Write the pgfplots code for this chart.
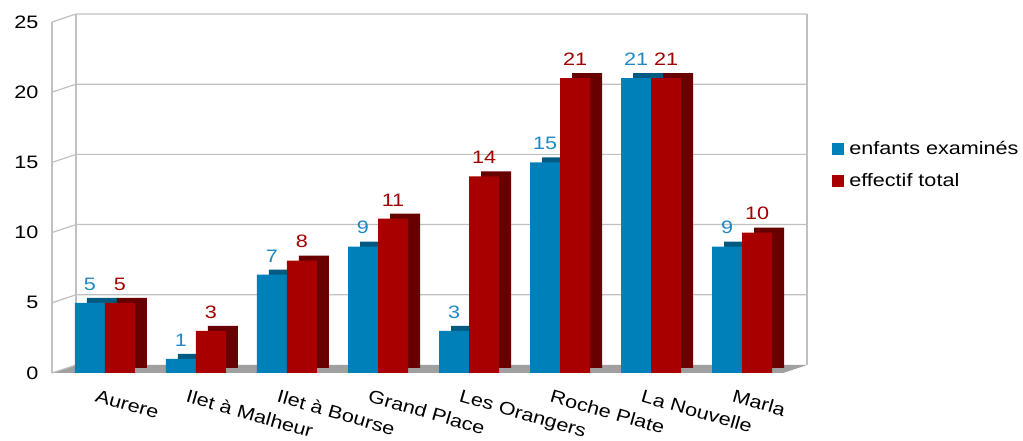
\documentclass[border=0pt]{standalone}
\usepackage{fontspec}
\setmainfont{Liberation Sans}[FakeStretch=1.2]
\usepackage{pgfplots}
\pgfplotsset{compat=1.18}
\definecolor{cblue}{HTML}{0080B8}
\definecolor{cbluedark}{HTML}{005A82}
\definecolor{cred}{HTML}{A80000}
\definecolor{creddark}{HTML}{680000}
\definecolor{lblue}{HTML}{1E88C4}
\definecolor{lred}{HTML}{A00000}
\definecolor{gridc}{HTML}{C0C0C0}
\definecolor{floorc}{HTML}{A0A0A0}
\pgfplotstableread{
x enf tot
0 5 5
1 1 3
2 7 8
3 9 11
4 3 14
5 15 21
6 21 21
7 9 10
}\data
\begin{document}
\begin{tikzpicture}[x=1pt,y=1pt]
\useasboundingbox (-52,-68) rectangle (971,373);
\begin{axis}[
  at={(0,0)}, anchor=south west,
  scale only axis, width=731pt, height=351pt,
  xmin=-0.582, xmax=7.45, ymin=0, ymax=25,
  clip=false,
  /pgf/number format/assume math mode=true,
  axis line style={draw=none},
  major tick length=0pt,
  ytick={0,5,...,25},
  xtick={0,...,7},
  xticklabels={Aurere,Ilet à Malheur,Ilet à Bourse,Grand Place,Les Orangers,Roche Plate,La Nouvelle,Marla},
  x tick label style={rotate=-16, anchor=north west, xshift=-6pt, yshift=-14pt, font=\fontsize{18}{18}\selectfont},
  y tick label style={font=\fontsize{18}{18}\selectfont, xshift=-10pt},
  ybar, bar width=30pt,
  nodes near coords,
  every node near coord/.append style={font=\fontsize{18}{18}\selectfont, yshift=9pt},
  legend style={at={(1.063,0.593)}, anchor=west, draw=none, fill=none,
    font=\fontsize{18}{18}\selectfont, row sep=13pt,
    /tikz/every odd column/.append style={column sep=3pt},
    legend cell align=left},
  legend image code/.code={\fill[#1] (0pt,-6pt) rectangle (12pt,6pt);},
]
% walls
\fill[floorc] (axis cs:-0.582,0) -- (axis cs:7.45,0) -- ([xshift=24pt,yshift=8pt]axis cs:7.45,0) -- ([xshift=24pt,yshift=8pt]axis cs:-0.582,0) -- cycle;
\draw[gridc, line width=1.2pt] (axis cs:-0.582,0) -- (axis cs:-0.582,25);
\draw[gridc, line width=1.2pt] ([xshift=24pt,yshift=8pt]axis cs:-0.582,0) -- ([xshift=24pt,yshift=8pt]axis cs:-0.582,25);
\draw[gridc, line width=1.6pt] ([xshift=24pt,yshift=8pt]axis cs:7.45,0) -- ([xshift=24pt,yshift=8pt]axis cs:7.45,25);
\pgfplotsinvokeforeach{5,10,15,20,25}{
  \draw[gridc, line width=1.2pt] (axis cs:-0.582,#1) -- ([xshift=24pt,yshift=8pt]axis cs:-0.582,#1) -- ([xshift=24pt,yshift=8pt]axis cs:7.45,#1);
}
\draw[gridc, line width=1.2pt] (axis cs:-0.582,0) -- ([xshift=24pt,yshift=8pt]axis cs:-0.582,0);
% blue
\addplot[forget plot, draw=none, fill=cbluedark, bar shift=-3pt, yshift=5pt, nodes near coords={}] table[x=x,y=enf]{\data};
\addplot[draw=none, fill=cblue, bar shift=-15pt, every node near coord/.append style={text=lblue}] table[x=x,y=enf]{\data};
% red
\addplot[forget plot, draw=none, fill=creddark, bar shift=27pt, yshift=5pt, nodes near coords={}] table[x=x,y=tot]{\data};
\addplot[draw=none, fill=cred, bar shift=15pt, every node near coord/.append style={text=lred}] table[x=x,y=tot]{\data};
\legend{enfants examinés, effectif total}
\end{axis}
\end{tikzpicture}
\end{document}
